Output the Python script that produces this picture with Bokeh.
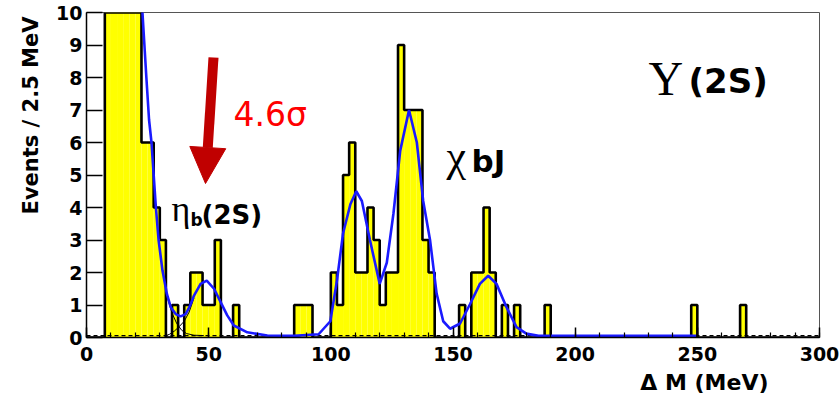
import math
from bokeh.plotting import figure
from bokeh.models import Label, Arrow, NormalHead, SingleIntervalTicker, Range1d, Title
from bokeh.embed import file_html
from bokeh.resources import INLINE

# ---------------- data ----------------
BIN_WIDTH = 2.5
X_MIN, X_MAX = 0.0, 300.0
Y_MAX = 10
# non-empty bins: lower edge (MeV) and number of events (top bins clipped at 10)
bin_lo = [7.5, 10, 12.5, 15, 17.5, 20, 22.5, 25, 27.5, 30, 35, 40, 42.5, 45, 47.5,
          50, 52.5, 60, 85, 87.5, 90, 100, 102.5, 105, 107.5, 110, 112.5, 115,
          117.5, 120, 122.5, 125, 127.5, 130, 132.5, 135, 137.5, 140, 152.5,
          157.5, 160, 162.5, 165, 170, 175, 187.5, 247.5, 267.5]
bin_n = [10, 10, 10, 10, 10, 10, 6, 6, 4, 3, 1, 1, 2, 2, 1,
         1, 3, 1, 1, 1, 1, 2, 1, 5, 6, 2, 2, 4,
         3, 1, 2, 2, 9, 7, 7, 7, 3, 2, 1,
         2, 2, 4, 2, 1, 1, 1, 1, 1]

# total fit (blue curve)
fit_x = [20.5, 22.9, 24.5, 25.6, 26.6, 28.4, 29.5, 31.1, 32.9, 34.5, 36.5, 38.5,
         40.6, 42.5, 44.0, 46.7, 49.2, 52.2, 54.9, 57.6, 60.3, 65.8, 74, 85, 95,
         99.8, 102.5, 105, 108, 110.4, 112.7, 116, 120, 122.9, 125.6, 128.4, 132,
         135.2, 137.8, 140.6, 143.3, 146, 148.8, 152.9, 157, 161, 164.4, 167.8,
         171.9, 176, 180, 185, 200, 249.5]
fit_y = [13.2, 10, 8.0, 6.7, 6.0, 4.0, 3.0, 2.06, 1.34, 0.93, 0.72, 0.65,
         0.72, 1.0, 1.29, 1.65, 1.75, 1.5, 1.09, 0.68, 0.37, 0.16, 0.06, 0.05, 0.1,
         0.5, 1.75, 3.2, 4.1, 4.5, 4.2, 3.0, 1.65, 2.3, 3.8, 5.75, 7.0,
         6.0, 4.2, 3.0, 1.35, 0.5, 0.27, 0.43, 1.03, 1.65, 1.9, 1.65,
         0.93, 0.32, 0.12, 0.05, 0.05, 0.05]

# fit components (thin black)
tail_x = [31.5, 33, 35, 37, 39, 41, 44, 48]
tail_y = [1.9, 1.25, 0.75, 0.42, 0.22, 0.12, 0.07, 0.06]
etab_x = [32, 34, 36, 38, 40, 42, 44]
etab_y = [0.04, 0.1, 0.2, 0.34, 0.5, 0.78, 1.22]
BKG_LEVEL = 0.06

x_ticks_interval = 50
y_ticks_interval = 1
X_TITLE = "\u0394 M (MeV)"
Y_TITLE = "Events / 2.5 MeV"

# ---------------- build histogram arrays ----------------
nbins = int(round((X_MAX - X_MIN) / BIN_WIDTH))
counts = [0] * nbins
for lo, n in zip(bin_lo, bin_n):
    counts[int(round((lo - X_MIN) / BIN_WIDTH))] = n
edges = [X_MIN + i * BIN_WIDTH for i in range(nbins + 1)]

# ---------------- figure ----------------
W, H = 839, 401
FL, FR, FT, FB = 86.0, 819.0, 12.0, 337.0
p = figure(width=W, height=H, output_backend="svg", toolbar_location=None,
           x_range=Range1d(X_MIN, X_MAX), y_range=Range1d(0, Y_MAX),
           min_border_left=int(FL), min_border_right=int(W - FR),
           min_border_top=int(FT), min_border_bottom=int(H - FB))
p.background_fill_color = "white"
p.border_fill_color = "white"
p.outline_line_color = "#555555"
p.outline_line_width = 1
p.xgrid.visible = False
p.ygrid.visible = False

# pixel -> data helpers for annotation placement
PX_PER_X = (FR - FL) / (X_MAX - X_MIN)
PX_PER_Y = (FB - FT) / Y_MAX
def dx(px):
    return X_MIN + (px - FL) / PX_PER_X
def dy(py):
    return (FB - py) / PX_PER_Y

YELLOW = "#FFFF00"
BLUE = "#1a1aff"
RED = "#FF0000"
DARKRED = "#C00000"

# yellow fill
fx_l = [edges[i] for i in range(nbins) if counts[i] > 0]
fx_r = [edges[i + 1] for i in range(nbins) if counts[i] > 0]
fy = [counts[i] for i in range(nbins) if counts[i] > 0]
p.quad(left=fx_l, right=fx_r, bottom=0, top=fy, fill_color=YELLOW, line_color=None)

# background dashed
p.line([X_MIN, X_MAX], [BKG_LEVEL, BKG_LEVEL], line_color="black", line_width=1.2,
       line_dash="4 3")

# components
p.line(tail_x, tail_y, line_color="black", line_width=1)
p.line(etab_x, etab_y, line_color="black", line_width=1)

# histogram outline
p.step(edges, counts + [counts[-1]], mode="after", line_color="black", line_width=2.6)

# total fit
p.line(fit_x, fit_y, line_color=BLUE, line_width=2.6)

# axes
p.xaxis.ticker = SingleIntervalTicker(interval=x_ticks_interval, num_minor_ticks=5)
p.yaxis.ticker = SingleIntervalTicker(interval=y_ticks_interval, num_minor_ticks=0)
for ax in (p.xaxis[0], p.yaxis[0]):
    ax.axis_line_color = "black"
    ax.axis_line_width = 1.5
    ax.major_tick_line_color = "black"
    ax.major_tick_line_width = 1.5
    ax.minor_tick_line_color = "black"
    ax.minor_tick_line_width = 1.2
    ax.major_tick_out = 0
    ax.minor_tick_out = 0
    ax.major_label_text_font = "DejaVu Sans"
    ax.major_label_text_font_style = "bold"
    ax.major_label_text_font_size = "19px"
    ax.major_label_text_color = "black"
p.xaxis.major_tick_in = 10
p.xaxis.minor_tick_in = 5
p.xaxis.major_label_standoff = 9
p.yaxis.major_tick_in = 16
p.yaxis.minor_tick_in = 0
p.yaxis.major_label_standoff = 4

# axis titles, ROOT-like (flush with the end of each axis)
p.add_layout(Title(text=X_TITLE, align="right", offset=51, standoff=8,
                   text_font="DejaVu Sans", text_font_style="bold",
                   text_font_size="22px", text_color="black"), "below")
p.add_layout(Title(text=Y_TITLE, align="right", offset=4, standoff=21,
                   text_font="DejaVu Sans", text_font_style="bold",
                   text_font_size="21px", text_color="black"), "left")

# arrow and significance
p.add_layout(Arrow(end=NormalHead(size=36, fill_color=DARKRED, line_color=DARKRED),
                   x_start=dx(213), y_start=dy(57), x_end=dx(205), y_end=dy(183),
                   line_color=DARKRED, line_width=10))

def put(text, px, py, font, size, bold=False, color="black"):
    # py is the vertical middle of the text
    p.add_layout(Label(x=dx(px), y=dy(py), text=text, text_align="left",
                       text_baseline="middle", text_font=font,
                       text_font_style="bold" if bold else "normal",
                       text_font_size=size, text_color=color))

put("4.6\u03c3", 233, 114, "DejaVu Sans", "33px", color=RED)
# eta_b(2S)
put("\u03b7", 171, 208, "Liberation Serif", "36px")
put("b", 190, 219, "DejaVu Sans", "17px", True)
put("(2S)", 201, 214, "DejaVu Sans", "26px", True)
# chi_bJ
put("\u03c7", 446, 156, "Liberation Serif", "44px")
put("bJ", 471, 160, "DejaVu Sans", "31px", True)
# Upsilon(2S)
put("\u03a5", 648, 78, "Liberation Serif", "48px")
put("(2S)", 688, 80, "DejaVu Sans", "34px", True)

open("out.html", "w").write(file_html(p, INLINE))
